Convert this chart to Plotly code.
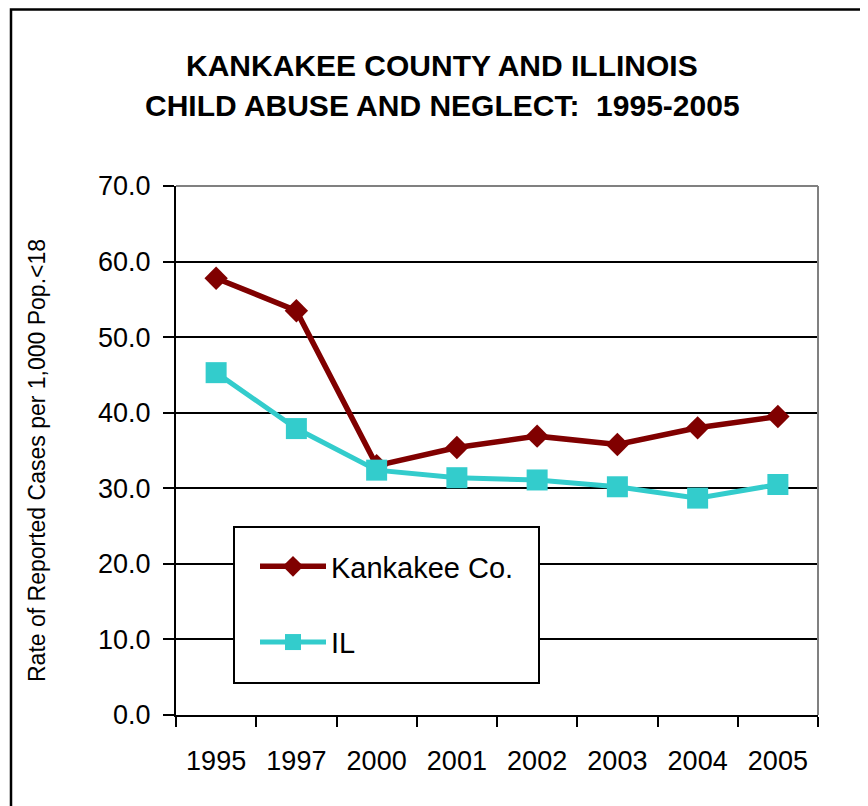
import plotly.graph_objects as go

years = ["1995", "1997", "2000", "2001", "2002", "2003", "2004", "2005"]
kankakee = [57.8, 53.5, 33.0, 35.4, 36.9, 35.8, 38.0, 39.5]
illinois = [45.3, 37.9, 32.4, 31.4, 31.1, 30.2, 28.7, 30.5]
y_ticks = [0, 10, 20, 30, 40, 50, 60, 70]

FONT = "Liberation Sans, Arial, sans-serif"

# plot area in screen pixels (page body has an 8px margin)
OFF = 8
L, R, T, B = 176, 818, 186, 715
W, H = R - L, B - T
FIG_W, FIG_H = 860, 798


def px(x):
    return (x - L) / W


def py(y):
    return (B - y) / H


fig = go.Figure()
fig.add_trace(go.Scatter(
    x=years, y=kankakee, name="Kankakee Co.", mode="lines+markers",
    line=dict(color="#800000", width=5.5),
    marker=dict(symbol="diamond", size=18, color="#800000"),
    legendgroup="a",
))
fig.add_trace(go.Scatter(
    x=years, y=illinois, name="IL", mode="lines+markers",
    line=dict(color="#33CCCC", width=5),
    marker=dict(symbol="square", size=21, color="#33CCCC"),
    legendgroup="b",
))

shapes = [
    # outer border
    dict(type="rect", xref="paper", yref="paper", x0=px(11), x1=px(864),
         y0=py(815), y1=py(9.5), line=dict(color="black", width=2.5), layer="above"),
    # plot area top / right (gray)
    dict(type="line", xref="paper", yref="paper", x0=0, x1=1, y0=1, y1=1,
         line=dict(color="#808080", width=2), layer="above"),
    dict(type="line", xref="paper", yref="paper", x0=1, x1=1, y0=0, y1=1,
         line=dict(color="#808080", width=2), layer="above"),
    # legend box
    dict(type="rect", xref="paper", yref="paper", x0=px(234), x1=px(539),
         y0=py(683), y1=py(527), line=dict(color="black", width=2),
         fillcolor="white", layer="above"),
]

annotations = [
    dict(text="<b>KANKAKEE COUNTY AND ILLINOIS</b>", xref="paper", yref="paper",
         x=px(442), y=py(65), showarrow=False, xanchor="center", yanchor="middle",
         font=dict(family=FONT, size=30, color="black")),
    dict(text="<b>CHILD ABUSE AND NEGLECT: \u00a01995-2005</b>", xref="paper", yref="paper",
         x=px(442), y=py(105), showarrow=False, xanchor="center", yanchor="middle",
         font=dict(family=FONT, size=30, color="black")),
    dict(text="Rate of Reported Cases per 1,000 Pop.<18", xref="paper", yref="paper",
         x=px(37), y=py(461), showarrow=False, xanchor="center", yanchor="middle",
         textangle=-90, font=dict(family=FONT, size=23, color="black")),
]

fig.update_layout(
    width=FIG_W, height=FIG_H,
    margin=dict(l=L - OFF, r=FIG_W - (R - OFF), t=T - OFF, b=FIG_H - (B - OFF), pad=0),
    paper_bgcolor="white", plot_bgcolor="white",
    font=dict(family=FONT, color="black"),
    showlegend=True,
    legend=dict(
        x=px(255), y=py(541), xanchor="left", yanchor="top",
        bgcolor="rgba(0,0,0,0)", borderwidth=0,
        font=dict(family=FONT, size=29, color="black"),
        itemwidth=66, tracegroupgap=35, itemsizing="trace",
    ),
    shapes=shapes,
    annotations=annotations,
    xaxis=dict(
        type="category", range=[-0.5, 7.5],
        showline=True, linecolor="black", linewidth=2,
        ticks="outside", ticklen=10, tickwidth=2, tickcolor="black",
        tickson="boundaries", showgrid=False,
        tickfont=dict(family=FONT, size=27, color="black"),
        ticklabelstandoff=21,
    ),
    yaxis=dict(
        range=[0, 70], tickvals=y_ticks, tickformat=".1f",
        showline=True, linecolor="black", linewidth=2,
        ticks="outside", ticklen=11, tickwidth=2, tickcolor="black",
        showgrid=True, gridcolor="black", gridwidth=2, zeroline=False,
        tickfont=dict(family=FONT, size=27, color="black"),
        ticklabelstandoff=7,
    ),
)

fig.write_html("out.html")
